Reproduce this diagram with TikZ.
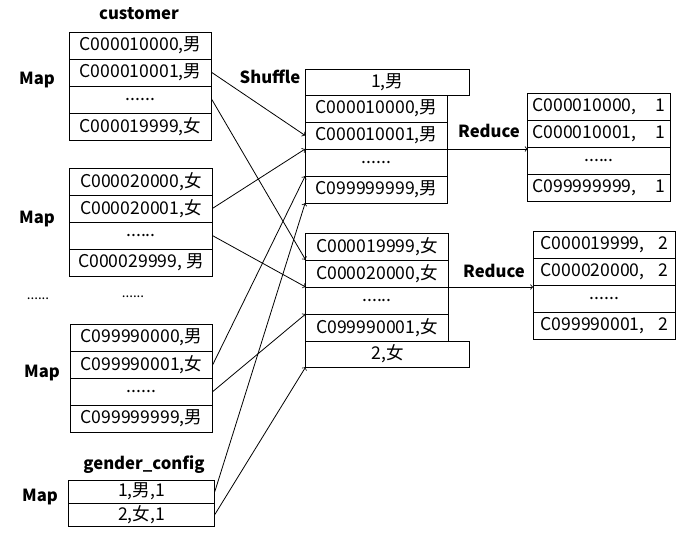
\documentclass[tikz,border=0pt]{standalone}
\usepackage{fontspec}
\setmainfont{Noto Sans CJK SC}
\usetikzlibrary{calc, positioning}

\begin{document}
\begin{tikzpicture}[x=0.75pt, y=-0.75pt]
    \tikzset{
      cell/.style={
        draw, line width=0.75pt, outer sep=0pt, inner sep=0pt,
        minimum width=107pt, minimum height=20.25pt,
        font=\fontsize{13.2}{15}\selectfont,
      },
      config/.style={cell, minimum width=110pt, minimum height=17.25pt},
      extra/.style={cell, minimum width=123pt, minimum height=19.5pt},
      link/.style={->, draw, line width=0.6pt},
      title/.style={font=\bfseries\fontsize{12.5}{14}\selectfont},
    }

    \useasboundingbox (0,0) rectangle (698,540);

    % map input: customer
    \node[title] (customer) at (139,14) {customer};

    \node[title] (map1) at (37,80) {Map};
    \node[cell] (c1a) at (140.5,45.5) {C000010000,男};
    \node[cell, below=0pt of c1a] (c1b) {C000010001,男};
    \node[cell, below=0pt of c1b] (c1c) {......};
    \node[cell, below=0pt of c1c] (c1d) {C000019999,女};

    \node[title] (map2) at (37,219) {Map};
    \node[cell] (c2a) at (141,181.5) {C000020000,女};
    \node[cell, below=0pt of c2a] (c2b) {C000020001,女};
    \node[cell, below=0pt of c2b] (c2c) {......};
    \node[cell, below=0pt of c2c] (c2d) {C000029999, 男};

    \node (dotsl) at (38,299) {......};
    \node (dotsm) at (133,297) {......};

    \node[title] (map3) at (42,373) {Map};
    \node[cell] (c3a) at (141.5,337.5) {C099990000,男};
    \node[cell, below=0pt of c3a] (c3b) {C099990001,女};
    \node[cell, below=0pt of c3b] (c3c) {......};
    \node[cell, below=0pt of c3c] (c3d) {C099999999,男};

    % map input: gender_config
    \node[title] (gender) at (144,465) {gender\_config};
    \node[title] (map4) at (40,497) {Map};
    \node[config] (g1) at (141.5,491.5) {1,男,1};
    \node[config, below=0pt of g1] (g2) {2,女,1};

    % shuffle
    \node[title] (shuffle) at (270,77) {Shuffle};

    \node[cell] (s1a) at (376.5,108.5) {C000010000,男};
    \node[cell, below=0pt of s1a] (s1b) {C000010001,男};
    \node[cell, below=0pt of s1b] (s1c) {......};
    \node[cell, below=0pt of s1c] (s1d) {C099999999,男};
    \node[extra, anchor=south west] (s1top) at (s1a.north west) {1,男};

    \node[cell] (s2a) at (377,246.5) {C000019999,女};
    \node[cell, below=0pt of s2a] (s2b) {C000020000,女};
    \node[cell, below=0pt of s2b] (s2c) {......};
    \node[cell, below=0pt of s2c] (s2d) {C099990001,女};
    \node[extra, anchor=north west] (s2bot) at (s2d.south west) {2,女};

    % reduce
    \node[title] (reduce1) at (489,131) {Reduce};
    \node[cell] (r1a) at (599,106.5) {C000010000,\hspace{1.1em}1};
    \node[cell, below=0pt of r1a] (r1b) {C000010001,\hspace{1.1em}1};
    \node[cell, below=0pt of r1b] (r1c) {......};
    \node[cell, below=0pt of r1c] (r1d) {C099999999,\hspace{1.1em}1};

    \node[title] (reduce2) at (494,271) {Reduce};
    \node[cell] (r2a) at (604.5,244.5) {C000019999,\hspace{0.8em}2};
    \node[cell, below=0pt of r2a] (r2b) {C000020000,\hspace{0.8em}2};
    \node[cell, below=0pt of r2b] (r2c) {......};
    \node[cell, below=0pt of r2c] (r2d) {C099990001,\hspace{0.8em}2};

    % shuffle links
    \draw[link] (c1b.east) -- (s1b.west);
    \draw[link] (c1c.east) -- (s2b.north west);
    \draw[link] (c2b.east) -- (s1b.south west);
    \draw[link] (c2c.east) -- (s2c.north west);
    \draw[link] (c3b.east) -- (s1c.south west);
    \draw[link] (c3c.east) -- (s2c.south west);
    \draw[link] (g1.east) -- (s1d.south west);
    \draw[link] (g2.east) -- (s2bot.south west);

    % reduce links
    \draw[link] (s1c.north east) -- (s1c.north east -| r1c.west);
    \draw[link] (s2c.north east) -- (s2c.north east -| r2c.west);
\end{tikzpicture}
\end{document}
